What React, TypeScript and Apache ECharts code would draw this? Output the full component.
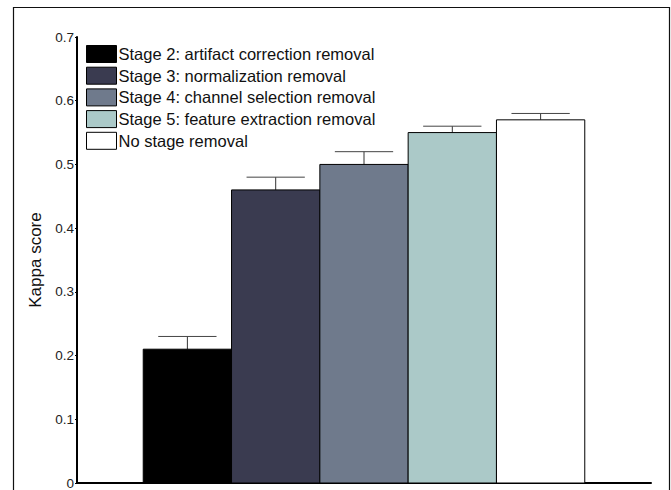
import React, { useEffect, useRef } from "react";
import * as echarts from "echarts";

// Ablation results: mean kappa score and upper error per pipeline variant
const stageNames = [
  "Stage 2: artifact correction removal",
  "Stage 3: normalization removal",
  "Stage 4: channel selection removal",
  "Stage 5: feature extraction removal",
  "No stage removal",
];
const kappaMeans = [0.21, 0.46, 0.5, 0.55, 0.57];
const kappaUpper = [0.23, 0.48, 0.52, 0.56, 0.58];
const barColors = ["#000000", "#3a3b50", "#6f7a8c", "#abc9c8", "#ffffff"];
const yTicks = [0, 0.1, 0.2, 0.3, 0.4, 0.5, 0.6, 0.7];

const FONT = "'Liberation Sans', Arial, Helvetica, sans-serif";

export default function App() {
  const ref = useRef<HTMLDivElement>(null);

  useEffect(() => {
    if (!ref.current) return;
    const chart = echarts.init(ref.current, undefined, { renderer: "svg" });

    const barSeries = stageNames.map((name, i) => ({
      type: "custom" as const,
      name,
      itemStyle: { color: barColors[i], borderColor: "#000", borderWidth: 1 },
      data: [[i + 1, kappaMeans[i]]],
      z: 2,
      renderItem: (_params: any, api: any) => {
        const x = api.value(0);
        const y = api.value(1);
        const tl = api.coord([x - 0.5, y]);
        const br = api.coord([x + 0.5, 0]);
        return {
          type: "rect",
          shape: { x: tl[0], y: tl[1], width: br[0] - tl[0], height: br[1] - tl[1] },
          style: { fill: barColors[i], stroke: "#000", lineWidth: 1 },
        };
      },
    }));

    const errorSeries = {
      type: "custom" as const,
      name: "error",
      z: 1,
      data: kappaMeans.map((m, i) => [i + 1, m, kappaUpper[i]]),
      renderItem: (_params: any, api: any) => {
        const x = api.value(0);
        const base = api.coord([x, api.value(1)]);
        const top = api.coord([x, api.value(2)]);
        const capL = api.coord([x - 0.33, api.value(2)]);
        const capR = api.coord([x + 0.33, api.value(2)]);
        return {
          type: "group",
          children: [
            {
              type: "line",
              shape: { x1: base[0], y1: base[1], x2: top[0], y2: top[1] },
              style: { stroke: "#333", lineWidth: 1 },
            },
            {
              type: "line",
              shape: { x1: capL[0], y1: capL[1], x2: capR[0], y2: capR[1] },
              style: { stroke: "#444", lineWidth: 1 },
            },
          ],
        };
      },
    };

    chart.setOption({
      animation: false,
      backgroundColor: "#fff",
      grid: { left: 77, right: 20, top: 37, bottom: 2, containLabel: false },
      graphic: [
        {
          type: "rect",
          shape: { x: 13.5, y: 7.5, width: 656, height: 520 },
          style: { fill: "none", stroke: "#111", lineWidth: 1.2 },
          z: -1,
          silent: true,
        },
      ],
      legend: {
        orient: "vertical",
        left: 81,
        top: 40,
        itemWidth: 30,
        itemHeight: 17,
        itemGap: 3.7,
        icon: "rect",
        padding: 5,
        data: stageNames,
        itemStyle: { borderColor: "#000", borderWidth: 1 },
        textStyle: { fontSize: 16.5, color: "#111", fontFamily: FONT, lineHeight: 17, padding: [0, 0, 0, -3] },
      },
      xAxis: {
        type: "value",
        min: -0.25,
        max: 6.25,
        axisLabel: { show: false },
        axisTick: { show: false },
        splitLine: { show: false },
        axisLine: { show: true, onZero: false, lineStyle: { color: "#000", width: 2 } },
      },
      yAxis: {
        type: "value",
        min: yTicks[0],
        max: yTicks[yTicks.length - 1],
        interval: 0.1,
        name: "Kappa score",
        nameLocation: "middle",
        nameGap: 31,
        nameTextStyle: { fontSize: 17, color: "#111", fontFamily: FONT },
        axisLine: { show: true, onZero: false, lineStyle: { color: "#000", width: 2 } },
        axisTick: { show: true, length: 2, lineStyle: { color: "#000" } },
        splitLine: { show: false },
        axisLabel: {
          fontSize: 13.5,
          color: "#222",
          fontFamily: FONT,
          margin: 3,
          formatter: (v: number) => String(Math.round(v * 10) / 10),
        },
      },
      series: [errorSeries, ...barSeries],
    });

    return () => chart.dispose();
  }, []);

  return (
    <div
      ref={ref}
      style={{ position: "absolute", left: 0, top: 0, width: 671, height: 490 }}
    />
  );
}
